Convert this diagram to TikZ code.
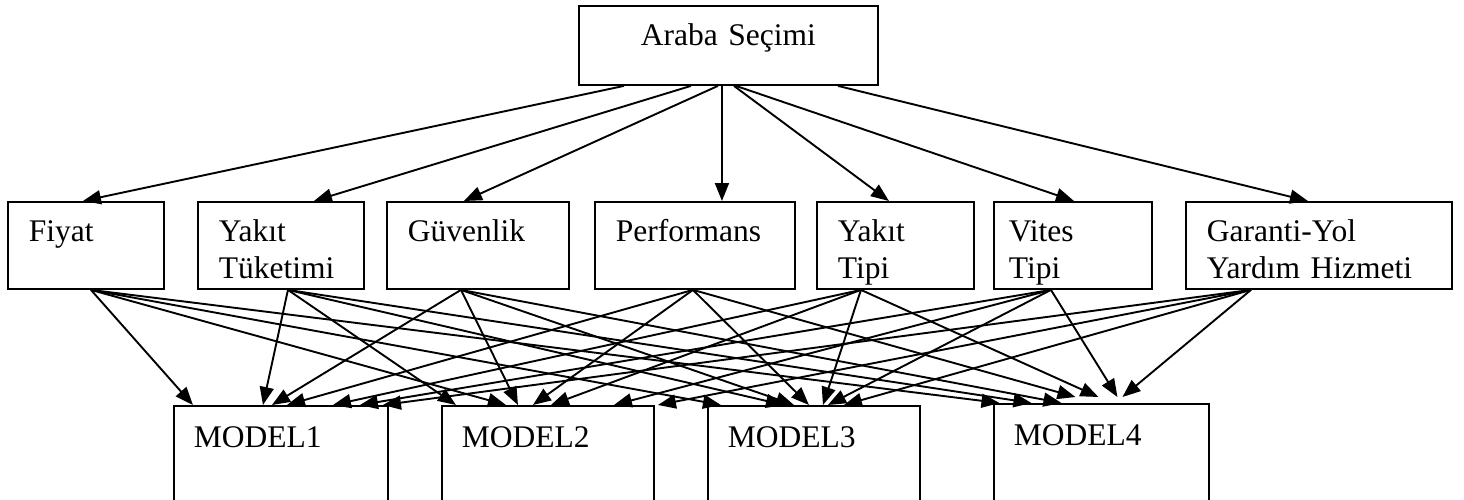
\documentclass[tikz,border=0pt]{standalone}
\usepackage{fontspec}
\setmainfont{Liberation Serif}
\usetikzlibrary{positioning,arrows.meta}

\begin{document}
\begin{tikzpicture}[
		x=1pt, y=-1pt,
		font=\fontsize{31.5}{36.5}\selectfont,
		block/.style={
			rectangle,
			draw,
			line width=1.9pt,
			anchor=north west,
			align=left,
			inner xsep=21pt,
			inner ysep=0pt,
			text height=40pt,
			text depth=47pt
			},
		goal/.style={
			block,
			align=center,
			text depth=39pt
			},
		model/.style={
			block,
			inner xsep=20pt,
			text height=42pt,
			text depth=100pt
			},
		line/.style={
			draw,
			line width=1.9pt,
			-{Triangle[length=18pt,width=14pt]}
			}]
	    \useasboundingbox (0,0) rectangle (1464,500);
	    \clip (0,0) rectangle (1464,500);
	    \fill [white] (0,0) rectangle (1464,500);

	    % Place nodes
	    \node [goal, text width=257pt] (araba) at (578,5) {Araba Seçimi};

	    \node [block, text width=114pt] (fiyat) at (7,201) {Fiyat};
	    \node [block, text width=124pt] (tuketim) at (197,201) {Yakıt\\Tüketimi};
	    \node [block, text width=140pt] (guvenlik) at (386,201) {Güvenlik};
	    \node [block, text width=158pt] (performans) at (594,201) {Performans};
	    \node [block, text width=115pt] (yakittipi) at (816,201) {Yakıt\\Tipi};
	    \node [block, inner xsep=15pt, text width=128pt] (vites) at (993,201) {Vites\\Tipi};
	    \node [block, text width=224pt] (garanti) at (1185,201) {Garanti-Yol\\Yardım Hizmeti};

	    \node [model, text width=174pt] (model1) at (173,405) {MODEL1};
	    \node [model, text width=172pt] (model2) at (441,405) {MODEL2};
	    \node [model, text width=172pt] (model3) at (707,405) {MODEL3};
	    \node [model, text width=175pt] (model4) at (993,403) {MODEL4};

	    % Draw edges
	    \path [line] ([xshift=-104.5pt]araba.south) -- ([xshift=-3pt]fiyat.north);
	    \path [line] ([xshift=-37.5pt]araba.south) -- ([xshift=33pt]tuketim.north);
	    \path [line] ([xshift=-10.5pt]araba.south) -- ([xshift=-14pt]guvenlik.north);
	    \path [line] ([xshift=-6.5pt]araba.south) -- ([xshift=27pt]performans.north);
	    \path [line] ([xshift=5.5pt]araba.south) -- ([xshift=-6.5pt]yakittipi.north);
	    \path [line] ([xshift=7.5pt]araba.south) -- ([xshift=1pt]vites.north);
	    \path [line] ([xshift=109.5pt]araba.south) -- ([xshift=-11pt]garanti.north);

	    \path [line] ([xshift=5pt]fiyat.south) -- ([xshift=-88pt]model1.north);
	    \path [line] ([xshift=5pt]fiyat.south) -- ([xshift=-42pt]model2.north);
	    \path [line] ([xshift=5pt]fiyat.south) -- ([xshift=-93pt]model3.north);
	    \path [line] ([xshift=5pt]fiyat.south) -- ([xshift=-102pt]model4.north);

	    \path [line] ([xshift=7pt]tuketim.south) -- ([xshift=-18pt]model1.north);
	    \path [line] ([xshift=7pt]tuketim.south) -- ([xshift=-92pt]model2.north);
	    \path [line] ([xshift=7pt]tuketim.south) -- ([xshift=-30pt]model3.north);
	    \path [line] ([xshift=7pt]tuketim.south) -- ([xshift=-70pt]model4.north);

	    \path [line] ([xshift=-17pt]guvenlik.south) -- ([xshift=-9pt]model1.north);
	    \path [line] ([xshift=-17pt]guvenlik.south) -- ([xshift=-30pt]model2.north);
	    \path [line] ([xshift=-17pt]guvenlik.south) -- ([xshift=-20pt]model3.north);
	    \path [line] ([xshift=-17pt]guvenlik.south) -- ([xshift=-40pt]model4.north);

	    \path [line] ([xshift=-2pt]performans.south) -- ([xshift=6pt]model1.north);
	    \path [line] ([xshift=-2pt]performans.south) -- ([xshift=-15pt]model2.north);
	    \path [line] ([xshift=-2pt]performans.south) -- ([xshift=-5pt]model3.north);
	    \path [line] ([xshift=-2pt]performans.south) -- ([xshift=-26pt, yshift=6pt]model4.north);

	    \path [line] ([xshift=-34.5pt]yakittipi.south) -- ([xshift=52pt]model1.north);
	    \path [line] ([xshift=-34.5pt]yakittipi.south) -- ([xshift=3pt]model2.north);
	    \path [line] ([xshift=-34.5pt]yakittipi.south) -- ([xshift=9pt]model3.north);
	    \path [line] ([xshift=-34.5pt]yakittipi.south) -- ([xshift=-3pt, yshift=6pt]model4.north);

	    \path [line] ([xshift=-22pt]vites.south) -- ([xshift=79pt]model1.north);
	    \path [line] ([xshift=-22pt]vites.south) -- ([xshift=66pt]model2.north);
	    \path [line] ([xshift=-22pt]vites.south) -- ([xshift=14pt]model3.north);
	    \path [line] ([xshift=-22pt]vites.south) -- ([xshift=16pt, yshift=6pt]model4.north);

	    \path [line] ([xshift=-68pt]garanti.south) -- ([xshift=102pt]model1.north);
	    \path [line] ([xshift=-68pt]garanti.south) -- ([xshift=110pt]model2.north);
	    \path [line] ([xshift=-68pt]garanti.south) -- ([xshift=30pt]model3.north);
	    \path [line] ([xshift=-68pt]garanti.south) -- ([xshift=21pt, yshift=6pt]model4.north);
	\end{tikzpicture}
\end{document}
